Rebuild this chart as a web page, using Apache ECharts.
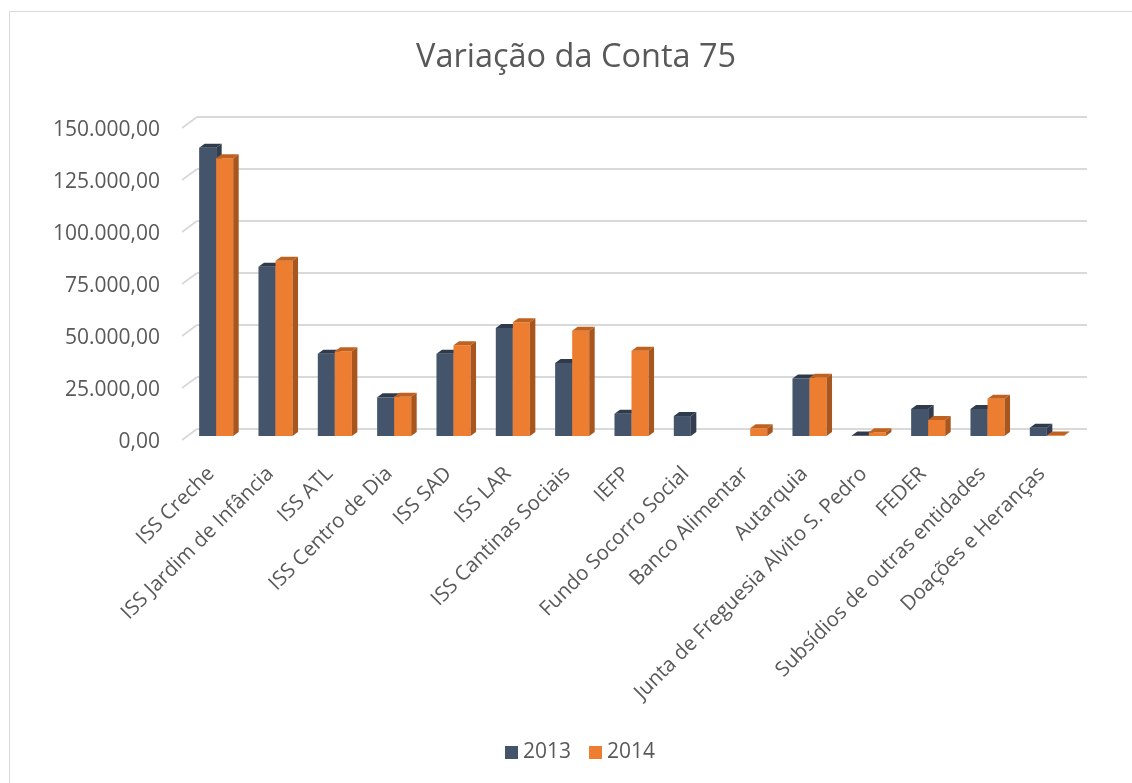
<!DOCTYPE html>
<html>
<head>
<meta charset="utf-8">
<script src="https://cdn.jsdelivr.net/npm/echarts@6/dist/echarts.min.js"></script>
<style>
  html, body { margin: 0; padding: 0; background: #fff; }
  #main { width: 1132px; height: 783px; }
</style>
</head>
<body>
<div id="main"></div>
<script>
var categories = ['ISS Creche', 'ISS Jardim de Infância', 'ISS ATL', 'ISS Centro de Dia', 'ISS SAD', 'ISS LAR',
    'ISS Cantinas Sociais', 'IEFP', 'Fundo Socorro Social', 'Banco Alimentar', 'Autarquia',
    'Junta de Freguesia Alvito S. Pedro', 'FEDER', 'Subsídios de outras entidades', 'Doações e Heranças'];
var values2013 = [138600, 81400, 39600, 18600, 39600, 51900, 35100, 10700, 9600, 0, 27700, 300, 13000, 13000, 4000];
var values2014 = [133500, 84300, 40700, 18900, 43600, 54700, 50600, 41000, 0, 3700, 28000, 1800, 7700, 17900, 200];
var tickValues = [0, 25000, 50000, 75000, 100000, 125000, 150000];

var FONT = 'Open Sans';
var GREY = '#595959';

// front face of the bars sits in front of the back wall
var SHIFT_X = -10.5, SHIFT_Y = 7;

function fmt(v) {
    var s = String(Math.round(v));
    s = s.replace(/\B(?=(\d{3})+(?!\d))/g, '.');
    return s + ',00';
}

function barRenderer(slot, front, top, side) {
    return function (params, api) {
        var v = api.value(1);
        if (!v) return null;
        var i = api.value(0);
        var band = api.size([1, 0])[0];
        var w = band * 0.287;
        var base = api.coord([i, 0]);
        var peak = api.coord([i, v]);
        var x0 = base[0] - w + slot * w + SHIFT_X;
        var yb = base[1] + SHIFT_Y;
        var yt = peak[1] + SHIFT_Y;
        var dx = 5.5, dy = 4;
        return {
            type: 'group',
            children: [
                { type: 'rect', shape: { x: x0, y: yt, width: w, height: yb - yt }, style: { fill: front } },
                { type: 'polygon', shape: { points: [[x0, yt], [x0 + dx, yt - dy], [x0 + w + dx, yt - dy], [x0 + w, yt]] }, style: { fill: top } },
                { type: 'polygon', shape: { points: [[x0 + w, yt], [x0 + w + dx, yt - dy], [x0 + w + dx, yb - dy], [x0 + w, yb]] }, style: { fill: side } }
            ]
        };
    };
}

function wallEdge(params, api) {
    var band = api.size([1, 0])[0];
    var p = api.coord([0, api.value(1)]);
    var x = p[0] - band / 2;
    return {
        type: 'line',
        shape: { x1: x, y1: p[1], x2: x - 15, y2: p[1] + 11 },
        style: { stroke: '#d9d9d9', lineWidth: 2 }
    };
}

var myChart = echarts.init(document.getElementById('main'));

myChart.setOption({
    backgroundColor: '#fff',
    animation: false,
    title: {
        text: 'Variação da Conta 75',
        left: 411,
        top: 36,
        textStyle: { fontFamily: FONT, fontSize: 32.5, fontWeight: 'normal', color: GREY }
    },
    legend: {
        data: ['2013', '2014'],
        bottom: 15,
        left: 500,
        icon: 'rect',
        itemWidth: 13,
        itemHeight: 13,
        itemGap: 18,
        textStyle: { fontFamily: FONT, fontSize: 21, color: GREY }
    },
    graphic: [{
        type: 'rect',
        shape: { x: 9.5, y: 11.5, width: 1300, height: 900 },
        style: { fill: 'none', stroke: '#d9d9d9', lineWidth: 1 },
        silent: true
    }],
    grid: { left: 197, right: 45, top: 117, bottom: 354 },
    xAxis: {
        type: 'category',
        data: categories,
        axisLine: { show: false },
        axisTick: { show: false },
        axisLabel: {
            interval: 0,
            rotate: 45,
            margin: 26,
            fontFamily: FONT,
            fontSize: 20.5,
            color: GREY,
            formatter: function (v) { return '{n|' + v + '}{s| }'; },
            rich: { n: {}, s: { width: 22 } }
        }
    },
    yAxis: {
        type: 'value',
        min: 0,
        max: 150000,
        interval: 25000,
        axisLine: { show: false },
        axisTick: { show: false },
        splitLine: { lineStyle: { color: '#d9d9d9', width: 2 } },
        axisLabel: {
            margin: 37,
            verticalAlign: 'top',
            lineHeight: 27,
            fontFamily: FONT,
            fontSize: 21,
            color: GREY,
            formatter: fmt
        }
    },
    series: [{
        name: 'wall',
        type: 'custom',
        silent: true,
        renderItem: wallEdge,
        data: tickValues.map(function (v) { return [0, v]; })
    }, {
        name: '2013',
        type: 'custom',
        renderItem: barRenderer(0, '#44546A', '#2F3B4B', '#323E4F'),
        itemStyle: { color: '#44546A' },
        data: values2013.map(function (v, i) { return [i, v]; })
    }, {
        name: '2014',
        type: 'custom',
        renderItem: barRenderer(1, '#ED7D31', '#C0621F', '#A8561E'),
        itemStyle: { color: '#ED7D31' },
        data: values2014.map(function (v, i) { return [i, v]; })
    }]
});
</script>
</body>
</html>
